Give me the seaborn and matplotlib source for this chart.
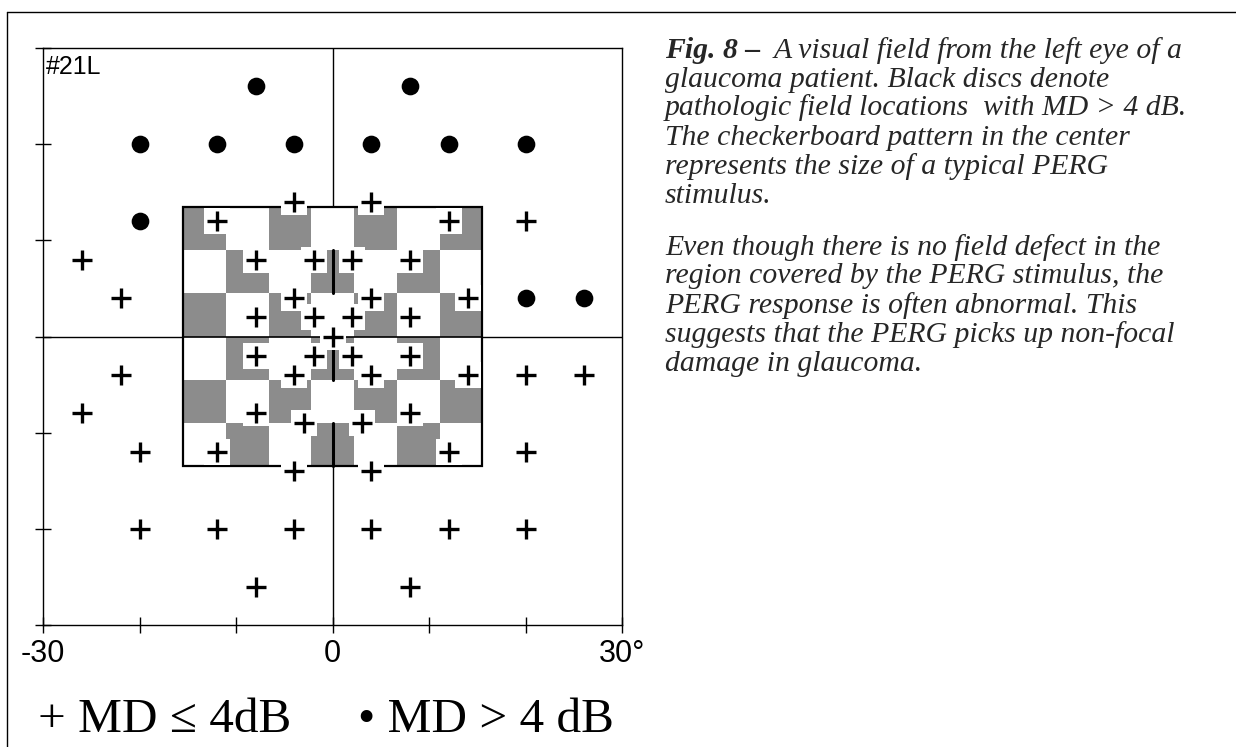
import matplotlib
matplotlib.use("Agg")
import matplotlib.pyplot as plt
from matplotlib.colors import ListedColormap
from matplotlib.patches import Rectangle
from matplotlib.lines import Line2D
import numpy as np
import seaborn as sns

# --- datos: campo visual #21L (grados) ---
# MD > 4 dB (discos negros)
disc_x = [-8, 8, -20, -12, -4, 4, 12, 20, -20, 20, 26]
disc_y = [26, 26, 20, 20, 20, 20, 20, 20, 12, 4, 4]

# MD <= 4 dB (cruces)
plus_x = [-12, -4, 4, 12, 20, -26, -8, -2, 2, 8, -22, -4, 4, 14, -8, -2, 2, 8,
          0,
          -8, -2, 2, 8, -22, -4, 4, 14, 20, 26, -26, -8, 8, -3, 3,
          -20, -12, 12, 20, -4, 4, -20, -12, -4, 4, 12, 20, -8, 8]
plus_y = [12, 14, 14, 12, 12, 8, 8, 8, 8, 8, 4, 4, 4, 4, 2, 2, 2, 2,
          0,
          -2, -2, -2, -2, -4, -4, -4, -4, -4, -4, -8, -8, -8, -9, -9,
          -12, -12, -12, -12, -14, -14, -20, -20, -20, -20, -20, -20, -26, -26]

x_ticks = [-30, -20, -10, 0, 10, 20, 30]
x_labels = ["-30", "", "", "0", "", "", "30°"]

# estímulo PERG: tablero 7 x 6
n_cols, n_rows = 7, 6
check_w, check_h = 4.43, 4.5
GRAY = "#8c8c8c"

caption = [
    "glaucoma patient. Black discs denote",
    "pathologic field locations  with MD > 4 dB.",
    "The checkerboard pattern in the center",
    "represents the size of a typical PERG",
    "stimulus.",
    "Even though there is no field defect in the",
    "region covered by the PERG stimulus, the",
    "PERG response is often abnormal. This",
    "suggests that the PERG picks up non-focal",
    "damage in glaucoma.",
]
caption_base_px = [87, 115, 145, 174, 203, 255, 283, 313, 342, 371]

sns.set_theme(style="white")
plt.rcParams["font.family"] = ["Liberation Sans", "DejaVu Sans"]

W, H = 1236, 747
fig = plt.figure(figsize=(W / 100, H / 100), dpi=100)
ax = fig.add_axes([43.3 / W, 1 - 625 / H, 579 / W, 577 / H])
ax.set_xlim(-30, 30)
ax.set_ylim(-30, 30)

# meridianos
ax.axvline(0, color="black", lw=1.0, zorder=1)
ax.axhline(0, color="black", lw=1.0, zorder=1)

# tablero
xe = (np.arange(n_cols + 1) - n_cols / 2) * check_w
ye = (np.arange(n_rows + 1) - n_rows / 2) * check_h
rb, cc = np.meshgrid(np.arange(n_rows), np.arange(n_cols), indexing="ij")
pattern = ((rb + cc) % 2 == 1).astype(float)
ax.pcolormesh(xe, ye, pattern, cmap=ListedColormap(["white", GRAY]),
              edgecolors="none", antialiased=False, zorder=2)
# meridiano visible sobre los cuadros grises
for r in range(n_rows):
    if pattern[r, n_cols // 2] == 1:
        ax.plot([0, 0], [ye[r], ye[r + 1]], color="black", lw=2.2, zorder=3)
ax.plot([xe[0], xe[-1]], [0, 0], color="black", lw=1.2, zorder=3)
ax.add_patch(Rectangle((xe[0], ye[0]), xe[-1] - xe[0], ye[-1] - ye[0],
                       fill=False, edgecolor="black", lw=1.6, zorder=3))

# puntos de prueba
sns.scatterplot(x=plus_x, y=plus_y, marker="s", s=350, color="white",
                linewidth=0, legend=False, zorder=4, ax=ax)
sns.scatterplot(x=plus_x, y=plus_y, marker="+", s=228, color="black",
                linewidth=2.4, legend=False, zorder=5, ax=ax)
sns.scatterplot(x=disc_x, y=disc_y, marker="o", s=162, color="black",
                linewidth=0, legend=False, zorder=5, ax=ax)

# ejes
for sp in ax.spines.values():
    sp.set_visible(True)
    sp.set_color("black")
    sp.set_linewidth(1.0)
ax.set_xticks(x_ticks)
ax.set_xticklabels(x_labels)
ax.set_yticks(x_ticks)
ax.set_yticklabels([])
ax.tick_params(axis="both", direction="inout", length=12, width=1.0,
               color="black", left=True, bottom=True)
ax.tick_params(axis="x", labelsize=22, pad=4, labelcolor="black")
ax.set_xlabel("")
ax.set_ylabel("")
ax.text(0.005, 0.955, "#21L", transform=ax.transAxes, fontsize=18,
        va="baseline", ha="left", color="black")

# marco exterior
fig.add_artist(Line2D([7 / W, 1], [1 - 12 / H, 1 - 12 / H], color="black",
                      lw=1.0, transform=fig.transFigure))
fig.add_artist(Line2D([7 / W, 7 / W], [0, 1 - 12 / H], color="black",
                      lw=1.0, transform=fig.transFigure))

# leyenda en texto
serif = ["Liberation Serif", "DejaVu Serif"]
fig.text(38 / W, 1 - 732 / H, "+ MD ≤ 4dB", fontsize=35.5, family=serif,
         va="baseline", ha="left", color="black")
fig.text(358 / W, 1 - 732 / H, "• MD > 4 dB", fontsize=35.5, family=serif,
         va="baseline", ha="left", color="black")

# pie de figura: tamaño ajustado al ancho de la 3a línea
cap_x = 665 / W
fig.canvas.draw()
renderer = fig.canvas.get_renderer()
probe = fig.text(0, 0, caption[1], fontsize=20, family=serif, style="italic")
w20 = probe.get_window_extent(renderer).width
probe.remove()
cap_fs = 20 * 522 / w20

t0 = fig.text(cap_x, 1 - 58 / H, "Fig. 8 –", fontsize=cap_fs, family=serif,
              style="italic", weight="bold", va="baseline", ha="left")
bb = t0.get_window_extent(renderer)
fig.text((bb.x1 + 13) / W, 1 - 58 / H, "A visual field from the left eye of a",
         fontsize=cap_fs, family=serif, style="italic", va="baseline", ha="left")
for line, y in zip(caption, caption_base_px):
    fig.text(cap_x, 1 - y / H, line, fontsize=cap_fs, family=serif,
             style="italic", va="baseline", ha="left")

fig.savefig("out.png", dpi=100)
